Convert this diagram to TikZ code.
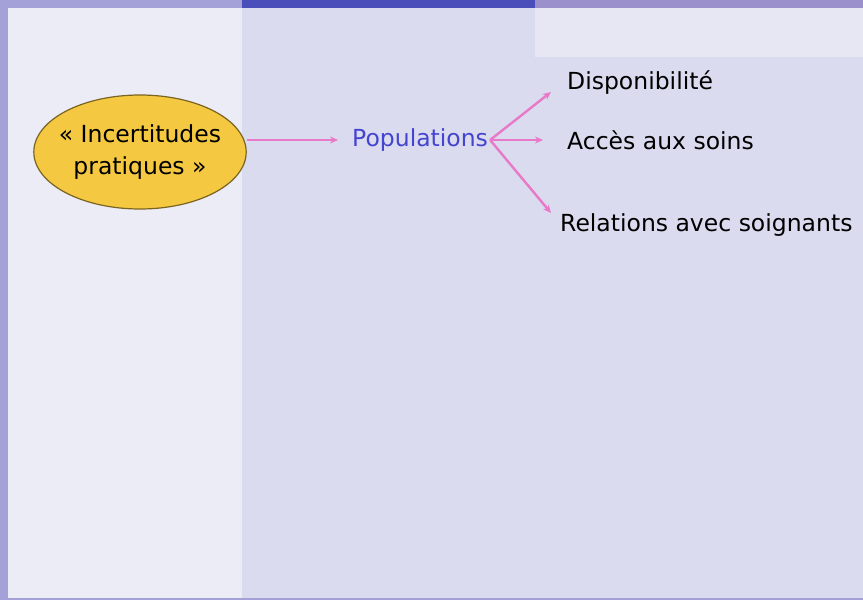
\documentclass[tikz,border=0pt]{standalone}
\usepackage{fontspec}
\setmainfont{DejaVu Sans}
\usetikzlibrary{shapes.geometric, positioning, arrows.meta}
\definecolor{edgepurple}{HTML}{A3A1D8}
\definecolor{topblue}{HTML}{4A4EBA}
\definecolor{toplilac}{HTML}{9C90CC}
\definecolor{leftpanel}{HTML}{ECECF6}
\definecolor{mainpanel}{HTML}{DADBEE}
\definecolor{corner}{HTML}{E7E7F4}
\definecolor{ovalfill}{HTML}{F5C842}
\definecolor{ovaldraw}{HTML}{7A6420}
\definecolor{linkpink}{HTML}{E878C8}
\definecolor{popblue}{HTML}{4444D0}

\begin{document}
\begin{tikzpicture}[x=1pt, y=-1pt,
    every node/.style={font=\fontsize{23.5}{32}\selectfont},
    link/.style={draw=linkpink, line width=2.4pt, -{Stealth[length=8pt, width=7pt]}},
    label/.style={anchor=west, inner sep=0pt}]
    \useasboundingbox (0,0) rectangle (863,600);

    % background
    \fill[edgepurple] (0,0) rectangle (863,600);
    \fill[topblue] (242,0) rectangle (535,8);
    \fill[toplilac] (535,0) rectangle (863,8);
    \fill[leftpanel] (8,8) rectangle (242,598);
    \fill[mainpanel] (242,8) rectangle (863,598);
    \fill[corner] (535,8) rectangle (863,57);

    \node[ellipse, draw=ovaldraw, fill=ovalfill, line width=1.2pt, align=center,
          minimum height=114pt, inner xsep=-6pt, inner ysep=0pt] (inc) at (140,152)
          {« Incertitudes\\pratiques »};
    \node[label, text=popblue] (pop) at (352,140) {Populations};
    \node[label] (dispo) at (567,83) {Disponibilité};
    \node[label] (acces) at (567,140) {Accès aux soins};
    \node[label] (rel) at (560,225) {Relations avec soignants};

    \coordinate (dtip) at (551,92);
    \coordinate (atip) at (543,140);
    \coordinate (rtip) at (551,213);

    \draw[link] (inc.east |- pop.west) -- ([xshift=-14pt]pop.west);
    \draw[link] ([xshift=2pt]pop.east) -- (dtip);
    \draw[link] ([xshift=2pt]pop.east) -- (atip);
    \draw[link] ([xshift=2pt]pop.east) -- (rtip);
\end{tikzpicture}
\end{document}
